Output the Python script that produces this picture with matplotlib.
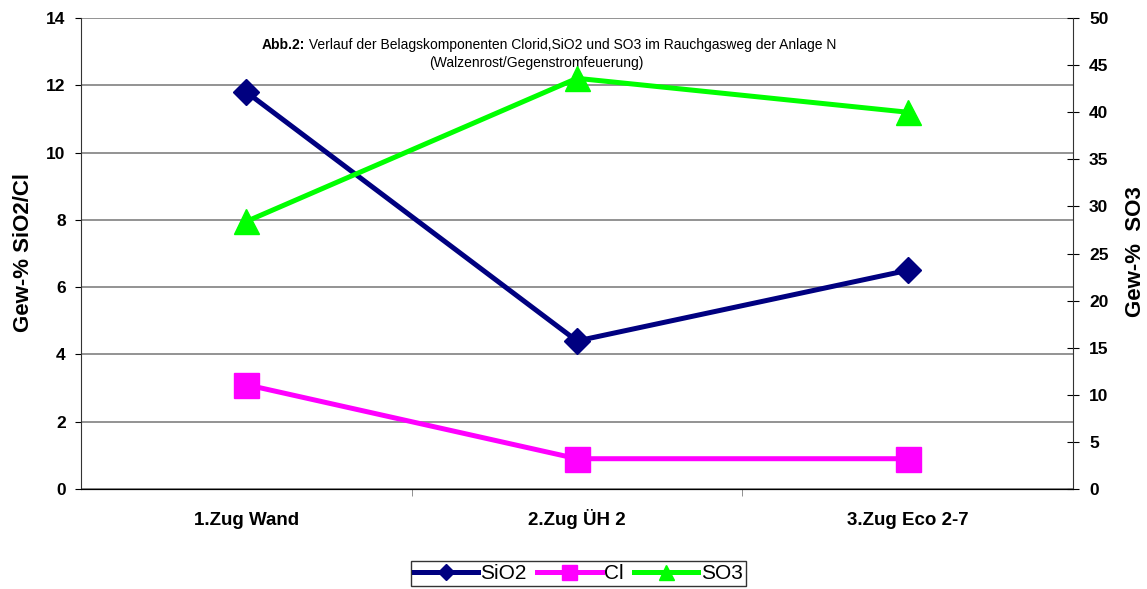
import matplotlib as mpl
mpl.use('Agg')
import matplotlib.pyplot as plt

kategorien = ["1.Zug Wand", "2.Zug ÜH 2", "3.Zug Eco 2-7"]
sio2 = [11.8, 4.4, 6.5]
cl = [3.1, 0.9, 0.9]
so3 = [28.4, 43.6, 40.0]

plt.rcParams['font.family'] = ['Liberation Sans', 'DejaVu Sans']

fig = plt.figure(figsize=(11.47, 5.89), dpi=100)
ax = fig.add_axes([0.0706, 0.1698, 0.8649, 0.7996])
ax2 = ax.twinx()

x = range(len(kategorien))
l1, = ax.plot(x, sio2, color='#000080', lw=3.6, marker='D', ms=13, label='SiO2', zorder=3)
l2, = ax.plot(x, cl, color='#ff00ff', lw=3.6, marker='s', ms=18, label='Cl', zorder=3)
l3, = ax2.plot(x, so3, color='#00ff00', lw=3.6, marker='^', ms=18, label='SO3', zorder=3)

ax.set_xlim(-0.5, 2.5)
ax.set_ylim(0, 14)
ax2.set_ylim(0, 50)
ax.set_yticks(range(0, 15, 2))
ax2.set_yticks(range(0, 51, 5))
ax.set_xticks(list(x))
ax.set_xticklabels(kategorien, fontsize=13.5, fontweight='bold')
for t in ax.get_xticklabels():
    t.set_va('baseline')
ax.set_xticks([0.5, 1.5], minor=True)
ax.tick_params(axis='x', which='major', length=0, pad=26)
ax.tick_params(axis='x', which='minor', direction='out', length=5, color='#808080')
ax.tick_params(axis='y', direction='out', length=4, pad=7, labelsize=12.5)
ax2.tick_params(axis='y', direction='inout', length=9, pad=7, labelsize=12.5)
for t in ax.get_yticklabels() + ax2.get_yticklabels():
    t.set_fontweight('bold')

ax.yaxis.grid(True, color='#808080', lw=1.2)
ax.set_axisbelow(True)
for s in ['top', 'right']:
    ax.spines[s].set_visible(False)
ax2.spines['top'].set_visible(False)
ax2.spines['left'].set_visible(False)
ax.spines['left'].set_color('#333333')
ax2.spines['right'].set_color('#333333')

ax.set_ylabel("Gew-% SiO2/Cl", fontsize=16, fontweight='bold')
ax.yaxis.set_label_coords(-0.047, 0.503)
ax2.set_ylabel("Gew-%  SO3", fontsize=16, fontweight='bold')
ax2.yaxis.set_label_coords(1.052, 0.503)

t1 = ax.text(0.1825, 0.934, "Abb.2:", transform=ax.transAxes, ha='left', va='baseline',
             fontsize=10, fontweight='bold')
ax.annotate(" Verlauf der Belagskomponenten Clorid,SiO2 und SO3 im Rauchgasweg der Anlage N",
            xy=(1, 0), xycoords=t1, ha='left', va='bottom', fontsize=10)
ax.text(0.459, 0.896, "(Walzenrost/Gegenstromfeuerung)", transform=ax.transAxes,
        ha='center', va='baseline', fontsize=10)

leg = fig.legend([l1, l2, l3], ['SiO2', 'Cl', 'SO3'], loc='upper center',
                 bbox_to_anchor=(0.504, 0.048), ncol=3, fontsize=15, frameon=True,
                 fancybox=False, edgecolor='black', handlelength=3.1, markerscale=0.6,
                 columnspacing=0.5, handletextpad=0.1, borderpad=0.15, borderaxespad=0)
leg.get_frame().set_linewidth(1)

fig.savefig('out.png', dpi=100)
